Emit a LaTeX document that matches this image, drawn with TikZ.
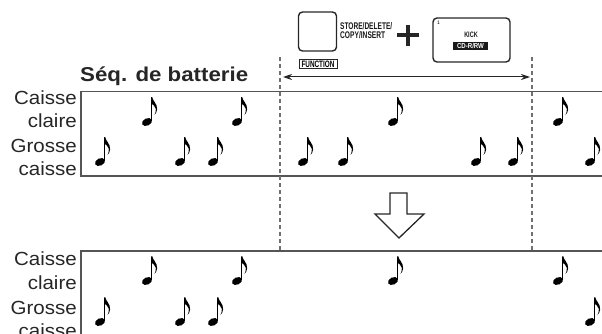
\documentclass[tikz,border=0pt]{standalone}
\usepackage{fontspec}
\setmainfont{Liberation Sans}
\newfontfamily\lab[FakeStretch=1.08]{Liberation Sans}
\usetikzlibrary{arrows.meta}
\definecolor{boxgray}{HTML}{555555}
\definecolor{dashgray}{HTML}{707070}
\newcommand{\fitbold}[3]{\resizebox{#1}{#2}{\bfseries #3}}
\tikzset{
  lbl/.style={anchor=base east, inner sep=0pt, font=\lab\fontsize{19}{19}\selectfont, text=black!85},
  boxline/.style={draw=boxgray, line width=1.3pt},
  dashline/.style={draw=dashgray, line width=1.4pt, dash pattern=on 4pt off 3pt},
  btn/.style={draw=black!85, line width=1.4pt, rounded corners=4pt, inner sep=0pt},
  condtxt/.style={inner sep=0pt, text=black!90},
  note/.pic={
    \fill[rotate=25] (0,0) ellipse (5.3 and 3.6);
    \draw[line width=1.1pt] (4.6,-1) -- (4.6,-24.5);
    \fill (4.05,-24.5) -- (5.2,-24.8) .. controls (5.9,-20.5) and (10.5,-18.5) .. (10.1,-12.5)
      .. controls (9.9,-9.8) and (8.7,-8.3) .. (7.5,-7.2)
      .. controls (8.5,-9.2) and (9.1,-10.8) .. (8.8,-13.2)
      .. controls (8.4,-16.5) and (5.1,-17.5) .. (4.05,-18.5) -- cycle;
  }
}
\begin{document}
\begin{tikzpicture}[x=1pt,y=-1pt]
\useasboundingbox (0,0) rectangle (602,334);
\clip (0,0) rectangle (602,334);

% title
\node[anchor=base west, inner sep=0pt, font=\fontsize{20}{20}\selectfont, text=black!85] (title) at (80,82) {\resizebox{168pt}{14.7pt}{\bfseries Séq. de batterie}};

% top panel
\draw[boxline] (602,91.5) -- (81,91.5) -- (81,176) -- (602,176);
\node[lbl] (t1) at (77,105) {Caisse};
\node[lbl] (t2) at (77,127.5) {claire};
\node[lbl] (t3) at (77,152.5) {Grosse};
\node[lbl] (t4) at (77,175) {caisse};

% bottom panel
\draw[boxline] (602,251) -- (81,251) -- (81,340);
\node[lbl] (b1) at (77,265) {Caisse};
\node[lbl] (b2) at (77,289.5) {claire};
\node[lbl] (b3) at (77,314) {Grosse};
\node[lbl] (b4) at (77,337) {caisse};

% dashed range markers
\coordinate (d1t) at (280,57);
\coordinate (d1b) at (280,250);
\coordinate (d2t) at (532,57);
\coordinate (d2b) at (532,250);
\draw[dashline] (d1t) -- (d1b);
\draw[dashline] (d2t) -- (d2b);

% double arrow
\coordinate (al) at (283,77);
\coordinate (ar) at (530,77);
\draw[line width=1pt, black!85, {Stealth[length=9pt,width=6pt]}-{Stealth[length=9pt,width=6pt]}] (al) -- (ar);

% buttons
\node[btn, minimum width=38pt, minimum height=39pt] (fn) at (317.5,31.5) {};
\node[draw=black!85, line width=0.9pt, inner sep=0pt, minimum width=38pt, minimum height=9.5pt] (fnl) at (318,64) {\fitbold{33pt}{6.5pt}{FUNCTION}};
\node[condtxt, anchor=base west] (s1) at (340,30) {\fitbold{52pt}{7pt}{STORE/DELETE/}};
\node[condtxt, anchor=base west] (s2) at (340,38.5) {\fitbold{45pt}{7pt}{COPY/INSERT}};
\coordinate (pl) at (397,35); \coordinate (pr) at (419,35);
\coordinate (pt) at (408,25); \coordinate (pb) at (408,46);
\draw[line width=4.5pt, black!85] (pl) -- (pr) (pt) -- (pb);
\node[btn, minimum width=77pt, minimum height=44pt] (kick) at (471.5,40) {};
\node[inner sep=0pt, font=\fontsize{5}{5}\selectfont] (one) at (438.5,23) {1};
\node[condtxt] (kt) at (471,35) {\fitbold{13.5pt}{5.5pt}{KICK}};
\node[fill=black!90, text=white, inner sep=0pt, minimum width=35pt, minimum height=8.5pt] (cd) at (470.5,46) {\fitbold{27pt}{5.2pt}{CD-R/RW}};

% big hollow down arrow
\draw[line width=1.3pt, draw=black!85, fill=white, line join=miter]
  (390,193) -- (407,193) -- (407,214) -- (424,214) -- (399,238) -- (375,214) -- (390,214) -- cycle;

% notes, top panel
\foreach \x in {147,237,393,558} \pic at (\x,122) {note};
\foreach \x in {100,180,213,303,343,476,513,590} \pic at (\x,162) {note};
% notes, bottom panel
\foreach \x in {147,237,393,558} \pic at (\x,281) {note};
\foreach \x in {100,180,213,590} \pic at (\x,322) {note};
\end{tikzpicture}
\end{document}
